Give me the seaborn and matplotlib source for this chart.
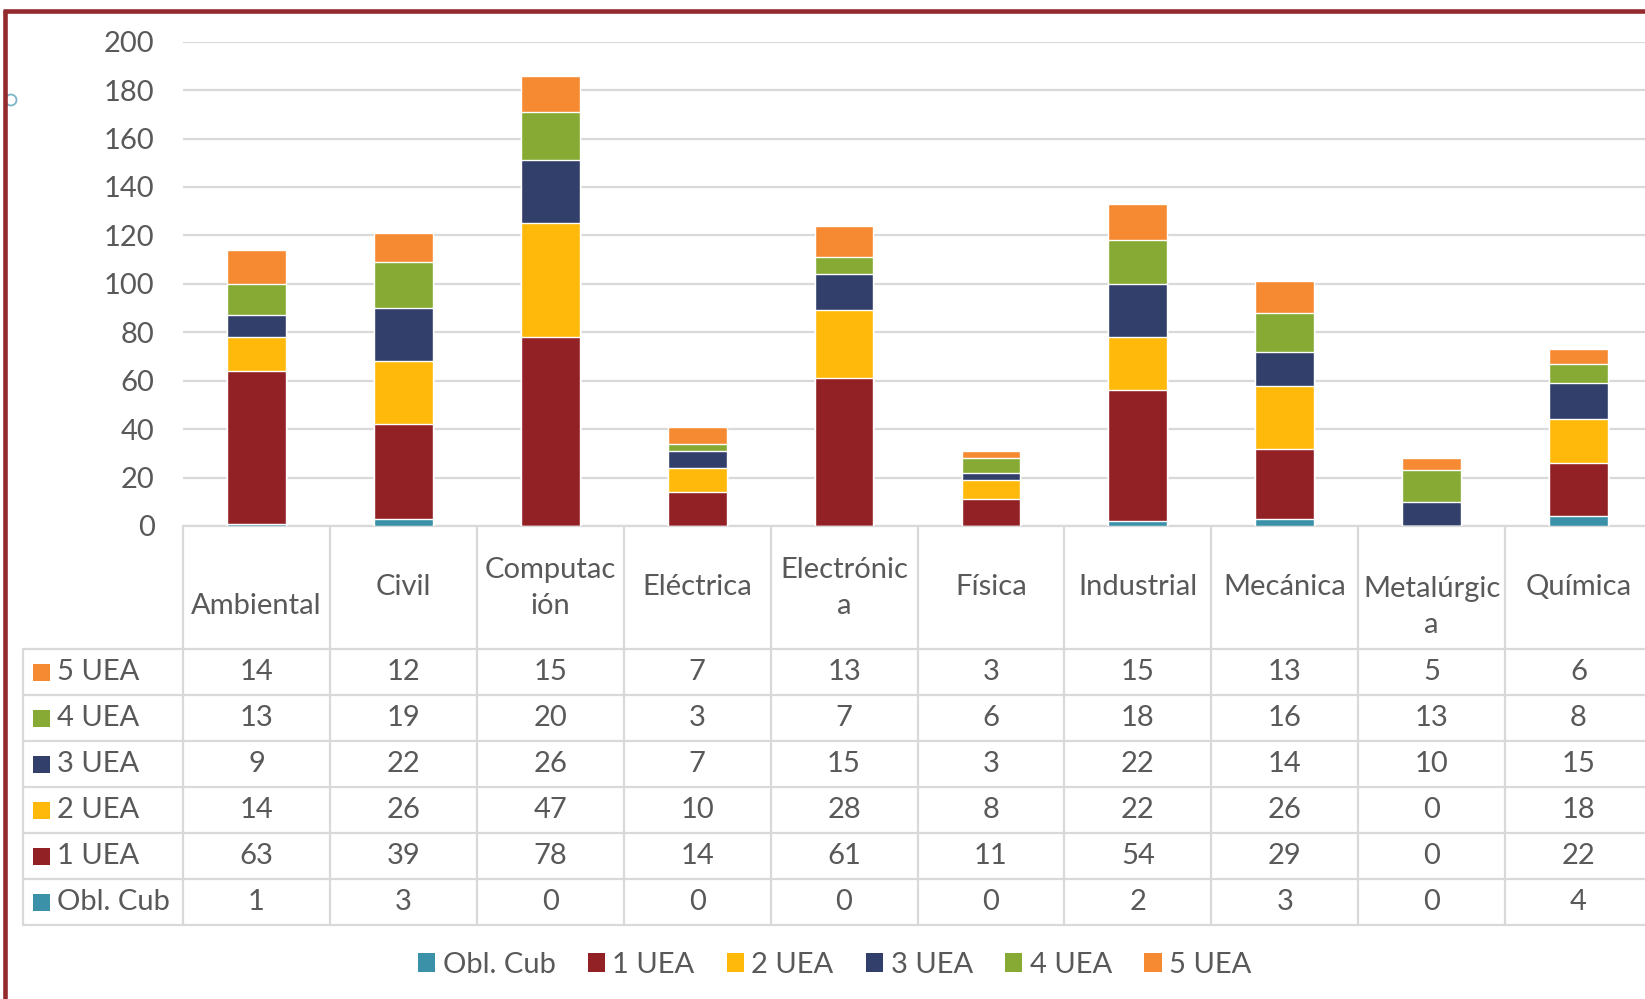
import matplotlib
matplotlib.use("Agg")
import matplotlib.pyplot as plt
from matplotlib.patches import Rectangle, Circle, Patch
import seaborn as sns
import pandas as pd
import numpy as np

# ---------------- data ----------------
categories = ["Ambiental", "Civil", "Computación", "Eléctrica", "Electrónica",
              "Física", "Industrial", "Mecánica", "Metalúrgica", "Química"]
header_labels = ["Ambiental", "Civil", "Computac\nión", "Eléctrica", "Electrónic\na",
                 "Física", "Industrial", "Mecánica", "Metalúrgic\na", "Química"]
series_names = ["Obl. Cub", "1 UEA", "2 UEA", "3 UEA", "4 UEA", "5 UEA"]
obl_cub = [1, 3, 0, 0, 0, 0, 2, 3, 0, 4]
uea1 = [63, 39, 78, 14, 61, 11, 54, 29, 0, 22]
uea2 = [14, 26, 47, 10, 28, 8, 22, 26, 0, 18]
uea3 = [9, 22, 26, 7, 15, 3, 22, 14, 10, 15]
uea4 = [13, 19, 20, 3, 7, 6, 18, 16, 13, 8]
uea5 = [14, 12, 15, 7, 13, 3, 15, 13, 5, 6]
y_ticks = [0, 20, 40, 60, 80, 100, 120, 140, 160, 180, 200]

series_values = [obl_cub, uea1, uea2, uea3, uea4, uea5]
colors = ["#3A91A8", "#922125", "#FFB90B", "#323F6A", "#86AA33", "#F68A33"]

# ---------------- style / layout ----------------
sns.set_theme(style="white")
plt.rcParams["font.family"] = ["Lato", "DejaVu Sans"]
TXT = "#595959"
GRID = "#D9D9D9"
FS = 21

W, H = 1645, 999
fig = plt.figure(figsize=(W / 100, H / 100), dpi=100)
fig.patch.set_facecolor("white")

# plot area in pixels
PL, PR, PT, PB = 183, 1652, 41.7, 526
ax = fig.add_axes([PL / W, 1 - PB / H, (PR - PL) / W, (PB - PT) / H])
ax.set_facecolor("none")

# stacked bars: draw cumulative totals from top layer down
cum = np.zeros(len(categories))
cums = []
for vals in series_values:
    cum = cum + np.array(vals)
    cums.append(cum.copy())
for name, c, cv in reversed(list(zip(series_names, colors, cums))):
    d = pd.DataFrame({"cat": categories, "val": cv})
    sns.barplot(data=d, x="cat", y="val", order=categories, color=c,
                saturation=1, width=0.4, errorbar=None, ax=ax, zorder=3)

ax.set_xlim(-0.5, len(categories) - 0.5)
ax.set_ylim(0, 200)
ax.set_yticks(y_ticks)
ax.set_yticklabels([str(t) for t in y_ticks])
ax.yaxis.grid(True, color=GRID, linewidth=1.6, zorder=0)
ax.set_axisbelow(True)
ax.tick_params(axis="y", length=0, pad=20.5, labelsize=FS, labelcolor=TXT)
ax.tick_params(axis="x", length=0, labelbottom=False)
ax.set_xlabel("")
ax.set_ylabel("")
for s in ax.spines.values():
    s.set_visible(False)

# ---------------- overlay (table, borders) ----------------
ov = fig.add_axes([0, 0, 1, 1], zorder=-1)
ov.set_xlim(0, W)
ov.set_ylim(H, 0)
ov.axis("off")

cw = (PR - PL) / len(categories)
col_x = [PL + k * cw for k in range(len(categories) + 1)]
row_y = [649, 695, 741, 787, 833, 879, 925]
TL = 22.7
for y in row_y:
    ov.plot([TL, PR], [y, y], color=GRID, lw=1.6, solid_capstyle="butt")
ov.plot([PL, PR], [PB, PB], color=GRID, lw=1.6)
for x in col_x:
    ov.plot([x, x], [PB, row_y[-1]], color=GRID, lw=1.6)
ov.plot([TL, TL], [row_y[0], row_y[-1]], color=GRID, lw=1.6)

# header labels
header_y = [606, 587, 588, 587, 588, 587, 587, 587, 607, 587]
for i, lab in enumerate(header_labels):
    ov.text(PL + (i + 0.5) * cw, header_y[i], lab, ha="center", va="center",
            fontsize=FS, color=TXT, linespacing=1.45, multialignment="center")

# table rows: top row is 5 UEA, bottom Obl. Cub
rows = list(zip(series_names, colors, series_values))[::-1]
for r, (name, c, vals) in enumerate(rows):
    yc = (row_y[r] + row_y[r + 1]) / 2
    ov.add_patch(Rectangle((33, yc - 8.5), 17, 17, color=c, lw=0))
    ov.text(57, yc, name, ha="left", va="center", fontsize=FS, color=TXT)
    for i, v in enumerate(vals):
        ov.text(PL + (i + 0.5) * cw, yc, str(v), ha="center", va="center",
                fontsize=FS, color=TXT)

# border of chart area
BORDER = "#932A2E"
ov.plot([3, W], [11, 11], color=BORDER, lw=3.3, solid_capstyle="butt")
ov.plot([5.3, 5.3], [9.5, H], color=BORDER, lw=3.3, solid_capstyle="butt")
ov.add_patch(Circle((11, 100), 5.5, fill=False, edgecolor="#7DB4C6", lw=1.3))

# bottom legend
handles = [Patch(facecolor=c, edgecolor="none", label=n)
           for n, c in zip(series_names, colors)]
fig.legend(handles=handles, loc="center", ncol=6,
           bbox_to_anchor=(834.5 / W, 1 - 965 / H), frameon=False,
           fontsize=FS, labelcolor=TXT, handlelength=0.6, handleheight=0.6,
           handletextpad=0.25, columnspacing=1.1, borderpad=0)

fig.savefig("out.png", dpi=100, facecolor="white")
